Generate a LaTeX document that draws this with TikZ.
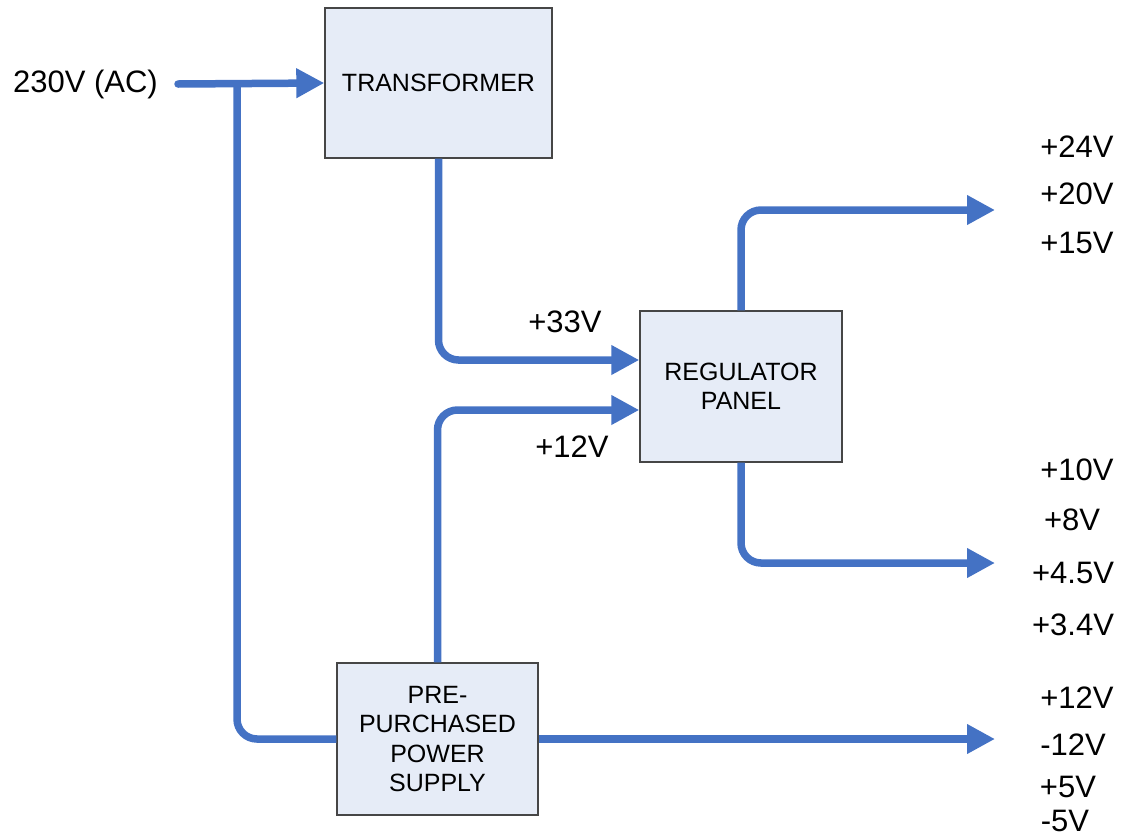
\documentclass[tikz,border=0pt]{standalone}
\usepackage{fontspec}
\setmainfont{Liberation Sans}
\usetikzlibrary{arrows.meta,positioning,calc}
\definecolor{wire}{RGB}{68,114,196}
\definecolor{boxfill}{RGB}{230,236,247}
\definecolor{boxline}{RGB}{70,70,70}
\begin{document}
\begin{tikzpicture}[x=1pt,y=-1pt,
 every node/.style={font=\fontsize{31}{36}\selectfont},
 block/.style={draw=boxline,line width=1.4pt,fill=boxfill,align=center,inner sep=0pt,
   font=\fontsize{25}{29.5}\selectfont},
 flow/.style={draw=wire,line width=7.5pt,rounded corners=20pt},
 tip/.style={-{Triangle[length=28pt,width=28pt]}}]
\useasboundingbox (0,0) rectangle (1125,839);
% blocks
\node[block,minimum width=227pt,minimum height=150pt] (tr) at (438.5,83) {TRANSFORMER};
\node[block,minimum width=202pt,minimum height=151pt] (rp) at (741,386.5) {REGULATOR\\PANEL};
\node[block,minimum width=201pt,minimum height=152pt] (ps) at (437.5,739) {PRE-\\PURCHASED\\POWER\\SUPPLY};
% input
\node[anchor=east,inner sep=0pt] (ac) at (158,84) {230V (AC)};
\coordinate (in) at (178,84); \coordinate (split) at (237,84);
\draw[flow,tip,line cap=round] (in) -- (tr.west);
\draw[flow] (split) |- (ps.west);
% to the regulator
\draw[flow,tip] (tr.south) |- ([yshift=26.5pt]rp.west);
\draw[flow,tip] (ps.north) |- ([yshift=-23.5pt]rp.west);
\node (v33) at (565,322) {+33V};
\node (v12) at (572,447) {+12V};
% outputs
\coordinate (o1) at (995,210); \coordinate (o2) at (995,563); \coordinate (o3) at (995,739);
\draw[flow,tip] (rp.north) |- (o1);
\draw[flow,tip] (rp.south) |- (o2);
\draw[flow,tip] (ps.east) -- (o3);
\foreach \n/\px/\py/\t in {a/1077/147/+24V, b/1077/194/+20V, c/1077/243/+15V,
  d/1077/470/+10V, e/1072/520/+8V, f/1073/573/+4.5V, g/1073/625/+3.4V,
  h/1077/698/+12V, i/1073/745/-12V, j/1068/787/+5V, k/1065/821/-5V}
  \node[inner sep=0pt] (out\n) at (\px,\py) {\t};
\end{tikzpicture}
\end{document}
